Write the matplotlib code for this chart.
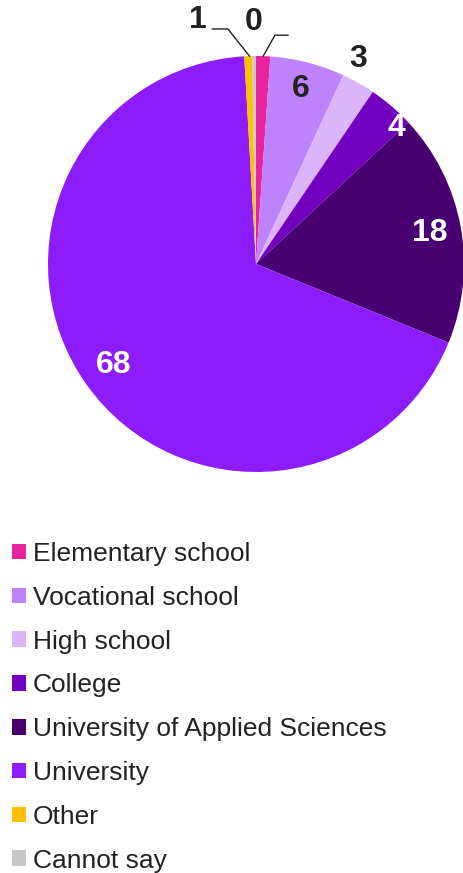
import numpy as np
import matplotlib.pyplot as plt
from matplotlib.patches import Patch

plt.rcParams['font.family'] = ['Liberation Sans', 'DejaVu Sans']

categories = ["Elementary school", "Vocational school", "High school", "College",
              "University of Applied Sciences", "University", "Other", "Cannot say"]
shares = [1.1, 5.8, 2.6, 3.6, 18.1, 68.0, 0.6, 0.3]
colors = ["#E8239E", "#BE82FA", "#DBB4FA", "#7300C0", "#480070", "#8C1CFA", "#FFC000", "#C8C8C8"]

W, H = 464, 873
fig = plt.figure(figsize=(W / 100, H / 100), dpi=100)
cx, cy, R = 256, 264, 208
ax = fig.add_axes([(cx - R) / W, (H - cy - R) / H, 2 * R / W, 2 * R / H])
ax.axis('off')

wedges, _ = ax.pie(shares, colors=colors, startangle=90, counterclock=False,
                   radius=1, wedgeprops=dict(linewidth=0))
ax.set_xlim(-1, 1)
ax.set_ylim(-1, 1)

# label radius (fraction of pie radius), angle override and text colour per slice
lab_r = [None, 0.87, 1.10, 0.94, 0.85, 0.84, None, None]
lab_a = [None, None, 26.6, 46, None, None, None, None]
lab_c = [None, "#222222", "#222222", "white", "white", "white", None, None]
cum = np.cumsum([0] + shares[:-1])
for i, v in enumerate(shares):
    if lab_r[i] is None:
        continue
    deg = lab_a[i] if lab_a[i] is not None else (cum[i] + v / 2) * 3.6
    ang = np.deg2rad(90 - deg)
    ax.text(lab_r[i] * np.cos(ang), lab_r[i] * np.sin(ang), f"{v:.0f}",
            ha='center', va='center', fontsize=23, fontweight='bold', color=lab_c[i])

def edge(i):
    a = np.deg2rad(90 - (cum[i] + shares[i] / 2) * 3.6)
    return np.cos(a), np.sin(a)

# leader lines for the thin slices at the top
ex, ey = edge(6)
ax.plot([ex, -0.135, -0.21], [ey, 1.13, 1.13], color='#222222', lw=1, clip_on=False)
ax.text(-0.279, 1.173, f"{shares[6]:.0f}", ha='center', va='center',
        fontsize=23, fontweight='bold', color='#222222')
ax.text(-0.01, 1.163, f"{shares[7]:.0f}", ha='center', va='center',
        fontsize=23, fontweight='bold', color='#222222')
ex, ey = edge(0)
ax.plot([ex, 0.091, 0.154], [ey, 1.10, 1.10], color='#222222', lw=1, clip_on=False)

handles = [Patch(facecolor=c, edgecolor='none') for c in colors]
fig.legend(handles, categories, loc='upper left', bbox_to_anchor=(12 / W, 1 - 542 / H),
           frameon=False, fontsize=19, handlelength=0.53, handleheight=0.53,
           handletextpad=0.25, labelspacing=0.75, borderpad=0, borderaxespad=0,
           labelcolor='#222222')

fig.savefig("out.png", dpi=100)
